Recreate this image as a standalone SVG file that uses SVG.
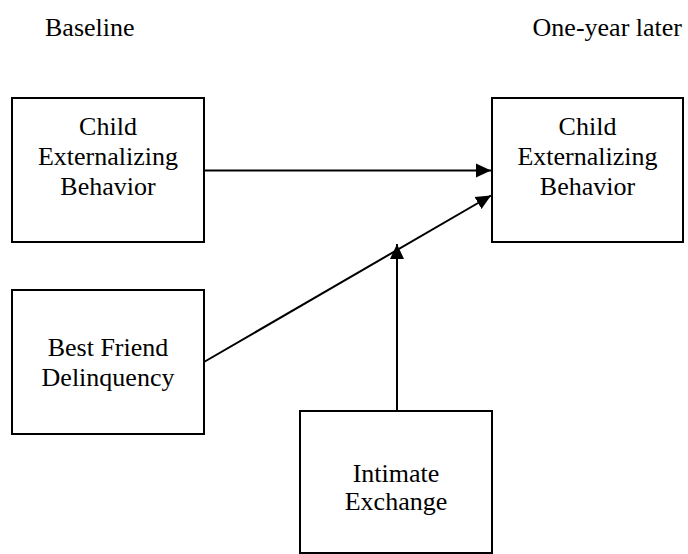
<svg xmlns="http://www.w3.org/2000/svg" width="688" height="554" viewBox="0 0 688 554">
<style>
.box{fill:#fff;stroke:#000;stroke-width:2}
.t{font-family:"Liberation Serif","Times New Roman",serif;font-size:26px;fill:#000;text-anchor:middle}
.h{font-family:"Liberation Serif","Times New Roman",serif;font-size:26px;fill:#000}
.c{stroke:#000;stroke-width:2;fill:none}
</style>
<defs>
<marker id="arr" markerUnits="userSpaceOnUse" markerWidth="16" markerHeight="16" viewBox="0 0 16 16" refX="15" refY="8" orient="auto">
<path d="M0,1 L15,8 L0,15 Z" fill="#000"/>
</marker>
</defs>
<text class="h" x="45" y="36">Baseline</text>
<text class="h" x="682" y="36" text-anchor="end">One-year later</text>
<g id="connectors">
<line class="c" x1="204" y1="170.5" x2="491" y2="170.5" marker-end="url(#arr)"/>
<line class="c" x1="204" y1="362" x2="491" y2="195.5" marker-end="url(#arr)"/>
<line class="c" x1="397" y1="411" x2="397" y2="244" marker-end="url(#arr)"/>
</g>
<g id="cebBase">
<rect class="box" x="12" y="98" width="192" height="144"/>
<text class="t" x="108" y="135">Child</text>
<text class="t" x="108" y="165">Externalizing</text>
<text class="t" x="108" y="195">Behavior</text>
</g>
<g id="cebLater">
<rect class="box" x="492" y="98" width="191" height="144"/>
<text class="t" x="587.5" y="135">Child</text>
<text class="t" x="587.5" y="165">Externalizing</text>
<text class="t" x="587.5" y="195">Behavior</text>
</g>
<g id="bfd">
<rect class="box" x="12" y="290" width="192" height="144"/>
<text class="t" x="108" y="356">Best Friend</text>
<text class="t" x="108" y="386">Delinquency</text>
</g>
<g id="ie">
<rect class="box" x="300" y="411" width="192" height="142"/>
<text class="t" x="396" y="482">Intimate</text>
<text class="t" x="396" y="510">Exchange</text>
</g>
</svg>
